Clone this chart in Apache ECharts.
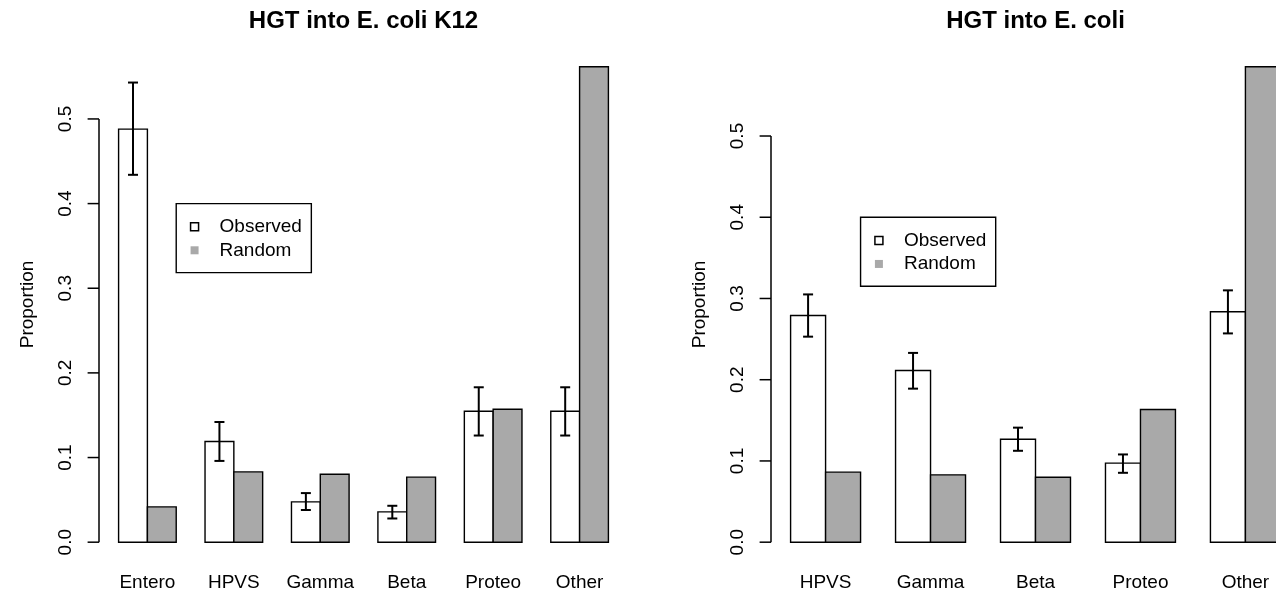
<!DOCTYPE html>
<html><head><meta charset="utf-8">
<script src="https://cdn.jsdelivr.net/npm/echarts@6/dist/echarts.min.js"></script>
<style>html,body{margin:0;padding:0;background:#fff}#c{width:1276px;height:594px}</style>
</head><body><div id="c"></div>
<script>
// ---- data ----
const k12Categories = ['Entero', 'HPVS', 'Gamma', 'Beta', 'Proteo', 'Other'];
const k12Observed = [0.488, 0.119, 0.0476, 0.0358, 0.1547, 0.1547];
const k12Random = [0.0417, 0.083, 0.0803, 0.0768, 0.1571, 0.5617];
const k12Lower = [0.434, 0.096, 0.038, 0.028, 0.126, 0.126];
const k12Upper = [0.543, 0.142, 0.058, 0.043, 0.183, 0.183];

const ecoliCategories = ['HPVS', 'Gamma', 'Beta', 'Proteo', 'Other'];
const ecoliObserved = [0.279, 0.2114, 0.1268, 0.0973, 0.2837];
const ecoliRandom = [0.0862, 0.0829, 0.080, 0.1634, 0.5853];
const ecoliLower = [0.253, 0.189, 0.1125, 0.0854, 0.257];
const ecoliUpper = [0.305, 0.233, 0.141, 0.108, 0.310];

const yTicks = [0, 0.1, 0.2, 0.3, 0.4, 0.5];
const panelTitles = ['HGT into E. coli K12', 'HGT into E. coli'];
const seriesNames = ['Observed', 'Random'];
const legendAnchor = [3, 0.4];

// ---- layout / style ----
const FONT = '"Liberation Sans", Arial, Helvetica, sans-serif';
const GRID_LEFT = [99, 771];
const GRID_WIDTH = 529;
const GRID_TOP = 47.7;
const GRID_HEIGHT = 513.5;
const OBS_FILL = '#ffffff';
const RND_FILL = '#a9a9a9';

const chart = echarts.init(document.getElementById('c'));

const option = {
  animation: false,
  backgroundColor: '#fff',
  textStyle: { fontFamily: FONT },
  title: [], grid: [], xAxis: [], yAxis: [], series: [], legend: []
};

function addPanel(i, cats, obs, rnd, lo, hi) {
  const n = cats.length;
  const span = 3 * n - 1;
  const xMin = 1 - 0.04 * span, xMax = 3 * n + 0.04 * span;
  const top = Math.max(...obs, ...rnd);
  const yMin = -0.04 * top, yMax = 1.04 * top;

  option.grid.push({
    left: GRID_LEFT[i], top: GRID_TOP, width: GRID_WIDTH, height: GRID_HEIGHT,
    containLabel: false, outerBoundsMode: 'none'
  });
  option.title.push({
    text: panelTitles[i], left: GRID_LEFT[i] + GRID_WIDTH / 2, top: 9, textAlign: 'center', padding: 0,
    textStyle: { fontSize: 24, fontWeight: 'bold', color: '#000', fontFamily: FONT }
  });
  option.xAxis.push({
    gridIndex: i, type: 'value', min: xMin, max: xMax,
    axisLine: { show: false }, axisTick: { show: false }, splitLine: { show: false },
    axisLabel: {
      customValues: cats.map((c, g) => 2 + 3 * g),
      formatter: v => cats[Math.round((v - 2) / 3)] || '',
      fontSize: 19, color: '#000', margin: 12, fontFamily: FONT
    }
  });
  option.yAxis.push({
    gridIndex: i, type: 'value', min: yMin, max: yMax,
    axisLine: { show: false }, axisTick: { show: false }, splitLine: { show: false },
    axisLabel: {
      customValues: yTicks, formatter: v => v.toFixed(1), rotate: 90,
      fontSize: 19, color: '#000', margin: 24, fontFamily: FONT
    },
    name: 'Proportion', nameLocation: 'middle', nameRotate: 90, nameGap: 62,
    nameTextStyle: { fontSize: 19, color: '#000', fontFamily: FONT }
  });

  function barSeries(name, values, k, fill) {
    return {
      type: 'custom', name, xAxisIndex: i, yAxisIndex: i, clip: false,
      itemStyle: { color: fill, borderColor: '#000' },
      data: values.map((v, g) => [g, v]),
      renderItem: (params, api) => {
        const g = api.value(0), v = api.value(1);
        const x0 = 1 + 3 * g + k;
        const p0 = api.coord([x0, v]);
        const p1 = api.coord([x0 + 1, 0]);
        return {
          type: 'rect',
          shape: { x: p0[0], y: p0[1], width: p1[0] - p0[0], height: p1[1] - p0[1] },
          style: { fill, stroke: '#000', lineWidth: 1.4 }
        };
      }
    };
  }
  option.series.push(barSeries(seriesNames[0], obs, 0, OBS_FILL));
  option.series.push(barSeries(seriesNames[1], rnd, 1, RND_FILL));

  option.series.push({
    type: 'custom', name: 'errors', xAxisIndex: i, yAxisIndex: i, clip: false, z: 5,
    data: lo.map((l, g) => [g, l, hi[g]]),
    renderItem: (params, api) => {
      const g = api.value(0);
      const xc = 1 + 3 * g + 0.5;
      const a = api.coord([xc, api.value(1)]);
      const b = api.coord([xc, api.value(2)]);
      const cap = 5;
      const st = { stroke: '#000', lineWidth: 2 };
      return {
        type: 'group', children: [
          { type: 'line', shape: { x1: a[0], y1: a[1], x2: b[0], y2: b[1] }, style: st },
          { type: 'line', shape: { x1: a[0] - cap, y1: a[1], x2: a[0] + cap, y2: a[1] }, style: st },
          { type: 'line', shape: { x1: b[0] - cap, y1: b[1], x2: b[0] + cap, y2: b[1] }, style: st }
        ]
      };
    }
  });

  option.series.push({
    type: 'custom', name: 'yaxis', xAxisIndex: i, yAxisIndex: i, clip: false, silent: true,
    data: yTicks.map((v, idx) => [xMin, v, idx]),
    renderItem: (params, api) => {
      const x = params.coordSys.x;
      const y = api.coord([xMin, api.value(1)])[1];
      const st = { stroke: '#000', lineWidth: 1.5 };
      const children = [{ type: 'line', shape: { x1: x - 11.4, y1: y, x2: x, y2: y }, style: st }];
      if (api.value(2) === 0) {
        const yTop = api.coord([xMin, yTicks[yTicks.length - 1]])[1];
        children.push({ type: 'line', shape: { x1: x, y1: y, x2: x, y2: yTop }, style: st });
      }
      return { type: 'group', children };
    }
  });

  option.legend.push({
    orient: 'vertical', left: 0, top: 0,
    padding: [13.7, 9.4, 12.8, 13.6],
    itemWidth: 8, itemHeight: 8, itemGap: 4.5,
    borderColor: '#000', borderWidth: 1.4, backgroundColor: '#fff',
    selectedMode: false,
    textStyle: { fontSize: 19, color: '#000', lineHeight: 19, padding: [0, 0, 0, 16], fontFamily: FONT },
    data: [
      { name: seriesNames[0], icon: 'rect', itemStyle: { color: OBS_FILL, borderColor: '#000', borderWidth: 1.5 } },
      { name: seriesNames[1], icon: 'rect', itemStyle: { color: RND_FILL, borderWidth: 0 } }
    ]
  });
}

addPanel(0, k12Categories, k12Observed, k12Random, k12Lower, k12Upper);
addPanel(1, ecoliCategories, ecoliObserved, ecoliRandom, ecoliLower, ecoliUpper);

chart.setOption(option);

// place each legend's top-left corner at the data point legendAnchor of its panel
const legendPos = [0, 1].map(i => chart.convertToPixel({ gridIndex: i }, legendAnchor));
chart.setOption({
  legend: legendPos.map(p => ({ left: p[0], top: p[1] }))
});
</script>
</body></html>
